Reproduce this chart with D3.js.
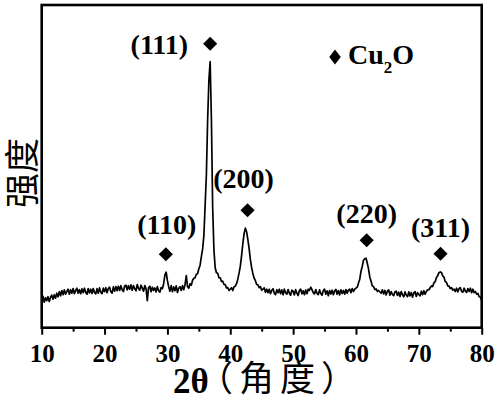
<!DOCTYPE html>
<html>
<head>
<meta charset="utf-8">
<script src="https://cdn.jsdelivr.net/npm/d3@7/dist/d3.min.js"></script>
<style>
  html, body { margin: 0; padding: 0; background: #fff; }
  svg { display: block; }
</style>
</head>
<body>
<svg id="chart" width="500" height="401"></svg>
<script>
// ---------------- data ----------------
const angleStart = 10;      // 2θ of first sample (deg)
const angleStep = 0.2;      // sampling step (deg)
const intensity = [
  280, 315, 255, 300, 270, 310, 262, 305, 325, 285,   // 10.0-11.8
  330, 295, 345, 310, 360, 320, 372, 330, 378, 335,   // 12
  362, 385, 335, 380, 345, 392, 340, 370, 395, 345,   // 14
  380, 340, 388, 350, 395, 355, 335, 392, 348, 385,   // 16
  342, 392, 352, 338, 390, 345, 398, 355, 340, 395,   // 18
  360, 400, 350, 392, 405, 360, 345, 408, 365, 412,   // 20
  370, 415, 372, 420, 380, 362, 418, 425, 378, 420,   // 22
  385, 428, 375, 422, 390, 368, 432, 392, 375, 425,   // 24
  395, 365, 420, 390, 270, 400, 415, 360, 405, 372,   // 26
  398, 358, 410, 370, 355, 402, 390, 440, 525, 555,   // 28
  470, 410, 365, 420, 360, 408, 370, 418, 352, 395,   // 30
  410, 372, 420, 380, 430, 520, 410, 395, 440, 425,   // 32
  475, 495, 500, 535, 540, 590, 625, 710, 785, 920,   // 34
  1225, 1530, 2080, 2480, 2660, 2080, 1200, 780, 600, 550, // 36
  545, 500, 498, 462, 465, 432, 430, 398, 400, 372,   // 38
  385, 400, 372, 410, 415, 440, 485, 545, 615, 720,   // 40
  840, 940, 995, 960, 880, 790, 680, 600, 540, 495,   // 42
  470, 432, 428, 400, 410, 375, 385, 398, 355, 385,   // 44
  350, 385, 340, 375, 390, 345, 330, 380, 350, 385,   // 46
  340, 378, 330, 385, 350, 335, 382, 345, 325, 375,   // 48
  365, 328, 380, 345, 322, 372, 385, 338, 370, 330,   // 50
  378, 340, 385, 372, 405, 380, 350, 338, 382, 345,   // 52
  330, 378, 342, 325, 372, 385, 335, 368, 320, 372,   // 54
  338, 375, 330, 368, 382, 335, 372, 328, 378, 342,   // 56
  372, 335, 382, 345, 375, 385, 350, 392, 362, 385,   // 58
  395, 405, 448, 485, 565, 615, 675, 690, 695, 645,   // 60
  585, 505, 465, 418, 410, 382, 388, 362, 372, 358,   // 62
  345, 378, 338, 372, 328, 365, 378, 325, 362, 332,   // 64
  320, 360, 365, 322, 355, 312, 362, 328, 308, 358,   // 66
  325, 310, 358, 318, 352, 305, 348, 360, 312, 350,   // 68
  332, 318, 365, 330, 370, 335, 362, 378, 380, 400,   // 70
  418, 412, 448, 460, 502, 520, 550, 558, 552, 518,   // 72
  505, 462, 452, 418, 415, 392, 400, 375, 385, 362,   // 74
  395, 358, 392, 400, 362, 355, 395, 365, 352, 392,   // 76
  362, 395, 350, 385, 350, 362, 335, 342, 310, 305,   // 78
  272                                                 // 80
];
const peakLabels  = ["(110)", "(111)", "(200)", "(220)", "(311)"];
const peakAngles  = [29.75, 36.8, 42.75, 61.7, 73.45];
const peakHeights = [555, 2660, 995, 695, 560];
const xTicks      = [10, 20, 30, 40, 50, 60, 70, 80];
const xMinorTicks = [15, 25, 35, 45, 55, 65, 75];
const legendLabel = "Cu";
const legendSub   = "2";
const legendTail  = "O";
const xTitleLatin = "2θ";
const xTitleCJK   = "（角度）";
const yTitle      = "强度";

// ---------------- layout ----------------
const L = 41.7, R = 481.7, T = 5, B = 327.7;
const serif = "'Liberation Serif', 'Times New Roman', serif";
const cjk = "'Noto Sans CJK SC', 'Noto Sans CJK JP', sans-serif";
// label placement relative to each diamond (style, not data)
const labelLayout = [
  { dx: 1,   dy: -20, anchor: "middle" },
  { dx: -22, dy: 10,  anchor: "end" },
  { dx: -4,  dy: -22, anchor: "middle" },
  { dx: 0,   dy: -17, anchor: "middle" },
  { dx: 0,   dy: -17, anchor: "middle" }
];

const svg = d3.select("#chart");
const x = d3.scaleLinear().domain([10, 80]).range([L, R]);
const y = d3.scaleLinear().domain([0, 3227]).range([B, T]);

const pts = intensity.map((v, i) => [angleStart + i * angleStep, v]);

// curve
svg.append("path")
  .datum(pts)
  .attr("fill", "none")
  .attr("stroke", "#000")
  .attr("stroke-width", 1.7)
  .attr("stroke-linejoin", "round")
  .attr("d", d3.line().x(d => x(d[0])).y(d => y(d[1])));

// axes
const gx = svg.append("g").attr("transform", `translate(0,${B})`)
  .call(d3.axisBottom(x).tickValues(xTicks).tickSize(7).tickFormat(d3.format("d")));
gx.select(".domain").remove();
gx.selectAll(".tick line").attr("stroke", "#000").attr("stroke-width", 2);
gx.selectAll(".tick text")
  .attr("y", 34.3).attr("dy", null)
  .attr("fill", "#000")
  .style("font-family", serif).style("font-weight", "bold").style("font-size", "25px");

const gm = svg.append("g").attr("transform", `translate(0,${B})`)
  .call(d3.axisBottom(x).tickValues(xMinorTicks).tickSize(4).tickFormat(""));
gm.select(".domain").remove();
gm.selectAll(".tick line").attr("stroke", "#000").attr("stroke-width", 2);

// frame
svg.append("rect")
  .attr("x", L).attr("y", T).attr("width", R - L).attr("height", B - T)
  .attr("fill", "none").attr("stroke", "#000").attr("stroke-width", 2.6);

// peak markers
const diamond = d3.symbol().type(d3.symbolSquare).size(100);
peakAngles.forEach((a, i) => {
  const cx = x(a), cy = y(peakHeights[i]) - 18;
  svg.append("path")
    .attr("d", diamond())
    .attr("transform", `translate(${cx},${cy}) rotate(45)`)
    .attr("fill", "#000");
  const lay = labelLayout[i];
  svg.append("text")
    .attr("x", cx + lay.dx).attr("y", cy + lay.dy)
    .attr("text-anchor", lay.anchor)
    .style("font-family", serif).style("font-weight", "bold").style("font-size", "28px")
    .text(peakLabels[i]);
});

// legend
svg.append("path")
  .attr("d", d3.symbol().type(d3.symbolSquare).size(66)())
  .attr("transform", "translate(335,57) scale(1,1.3) rotate(45)")
  .attr("fill", "#000");
const lt = svg.append("text").attr("x", 348).attr("y", 64)
  .style("font-family", serif).style("font-weight", "bold").style("font-size", "28px");
lt.append("tspan").text(legendLabel);
lt.append("tspan").attr("dy", 9).style("font-size", "17px").text(legendSub);
lt.append("tspan").attr("dy", -9).text(legendTail);

// x title
svg.append("text").attr("x", 173).attr("y", 393)
  .style("font-family", serif).style("font-weight", "bold").style("font-size", "35px")
  .text(xTitleLatin);
svg.append("text").attr("x", 198).attr("y", 391)
  .style("font-family", cjk).style("font-size", "35px")
  .style("letter-spacing", "6px")
  .text(xTitleCJK);

// y title
svg.append("text")
  .attr("transform", "translate(35,173) rotate(-90)")
  .attr("text-anchor", "middle")
  .style("font-family", cjk).style("font-size", "35px")
  .text(yTitle);
</script>
</body>
</html>
